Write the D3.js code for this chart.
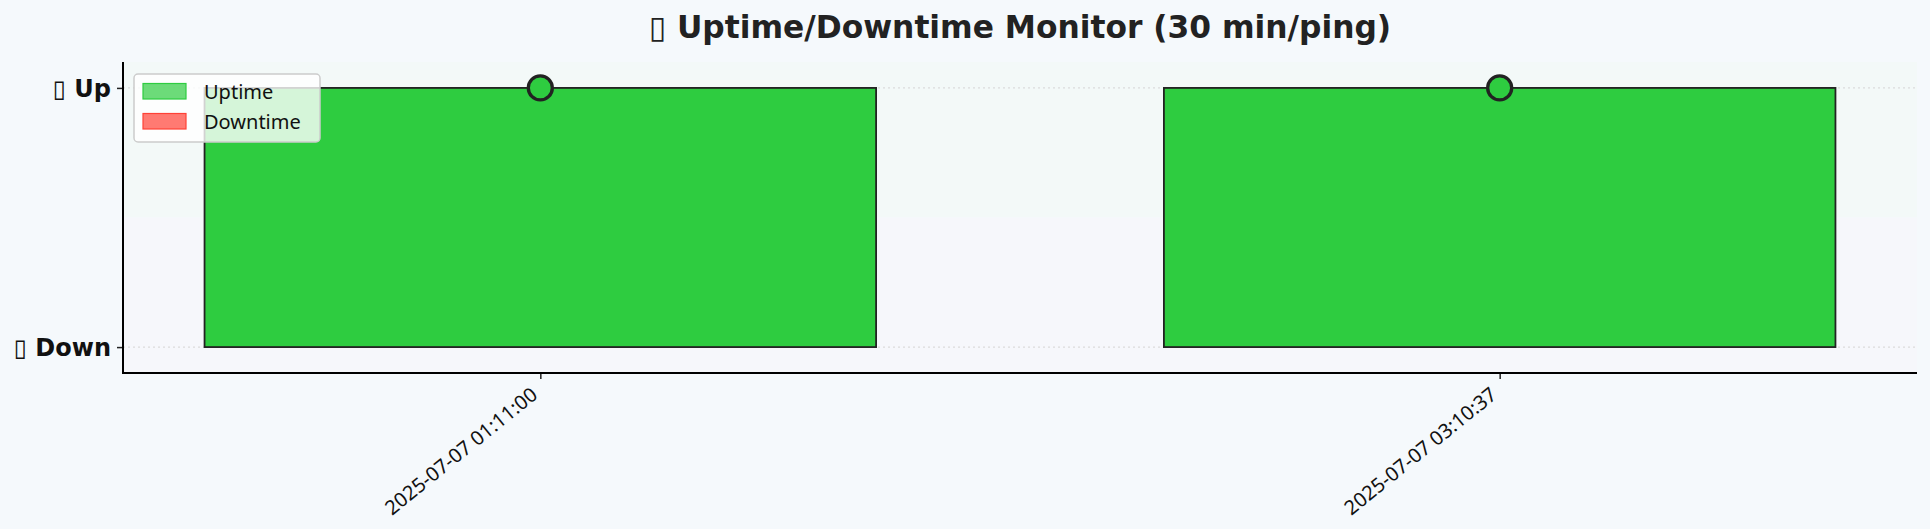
<!DOCTYPE html>
<html>
<head>
<meta charset="utf-8">
<script src="https://cdn.jsdelivr.net/npm/d3@7"></script>
<style>
  html, body { margin: 0; padding: 0; background: #f5f9fc; }
  svg { display: block; }
</style>
</head>
<body>
<svg id="chart" width="1930" height="529"></svg>
<script>
// ---- data ----
const timestamps = ["2025-07-07 01:11:00", "2025-07-07 03:10:37"];
const statusValues = [1, 1];           // 1 = up, 0 = down
const yTickValues = [0, 1];
const yTickLabels = ["\u25AF Down", "\u25AF Up"];
const legendLabels = ["Uptime", "Downtime"];
const titleText = "\u25AF Uptime/Downtime Monitor (30 min/ping)";

(function () {
// ---- layout ----
const W = 1930, H = 529;
const pL = 123, pR = 1917, pT = 62, pB = 373;
const GREEN = "#2ecc40", RED = "#ff4136", EDGE = "#222222";

const svg = d3.select("#chart");
svg.append("rect").attr("width", W).attr("height", H).attr("fill", "#f5f9fc");

const idx = timestamps.map((d, i) => i);
const barW = 0.7;
const x = d3.scaleLinear().domain([-0.435, idx.length - 1 + 0.435]).range([pL, pR]);
const y = d3.scaleLinear().domain([-0.1, 1.1]).range([pB, pT]);

// background bands
svg.append("rect").attr("x", pL).attr("width", pR - pL)
  .attr("y", y(1.1)).attr("height", y(0.5) - y(1.1)).attr("fill", "#f3f9f8");
svg.append("rect").attr("x", pL).attr("width", pR - pL)
  .attr("y", y(0.5)).attr("height", y(-0.1) - y(0.5)).attr("fill", "#f6f7fb");

// grid
svg.append("g").selectAll("line").data(yTickValues).join("line")
  .attr("x1", pL).attr("x2", pR)
  .attr("y1", d => y(d)).attr("y2", d => y(d))
  .attr("stroke", "#dcdcdc").attr("stroke-width", 1.2).attr("stroke-dasharray", "2,3");

// bars
svg.append("g").selectAll("rect").data(statusValues).join("rect")
  .attr("x", (d, i) => x(i - barW / 2))
  .attr("width", x(barW) - x(0))
  .attr("y", d => y(Math.max(d, 0)))
  .attr("height", d => Math.abs(y(0) - y(d)))
  .attr("fill", d => d === 1 ? GREEN : RED)
  .attr("stroke", EDGE).attr("stroke-width", 1.8);

// markers
svg.append("g").selectAll("circle").data(statusValues).join("circle")
  .attr("cx", (d, i) => x(i)).attr("cy", d => y(d))
  .attr("r", 12)
  .attr("fill", d => d === 1 ? GREEN : RED)
  .attr("stroke", EDGE).attr("stroke-width", 3.3);

// axes
const yAxis = d3.axisLeft(y).tickValues(yTickValues).tickSize(6).tickPadding(6)
  .tickFormat((d, i) => yTickLabels[i]);
const gy = svg.append("g").attr("transform", `translate(${pL},0)`).call(yAxis);
gy.select(".domain").remove();
gy.selectAll(".tick line").attr("stroke", "#222").attr("stroke-width", 1.5);
gy.selectAll(".tick text").attr("font-family", "DejaVu Sans").attr("font-weight", "bold")
  .attr("font-size", "24px").attr("fill", "#111").attr("x", -12).attr("dy", "0.36em");

const xAxis = d3.axisBottom(x).tickValues(idx).tickSize(6).tickFormat(i => timestamps[i]);
const gx = svg.append("g").attr("transform", `translate(0,${pB})`).call(xAxis);
gx.select(".domain").remove();
gx.selectAll(".tick line").attr("stroke", "#222").attr("stroke-width", 1.5);
gx.selectAll(".tick text")
  .attr("font-family", "Noto Sans").attr("font-size", "20px").attr("fill", "#111")
  .attr("text-anchor", "end").attr("y", 0).attr("dy", 0)
  .attr("transform", "translate(-2,24) rotate(-39)");

// spines
svg.append("line").attr("x1", pL).attr("x2", pL).attr("y1", pT).attr("y2", pB + 1)
  .attr("stroke", "#000").attr("stroke-width", 2);
svg.append("line").attr("x1", pL - 1).attr("x2", pR).attr("y1", pB).attr("y2", pB)
  .attr("stroke", "#000").attr("stroke-width", 2);

// title
svg.append("text").attr("x", (pL + pR) / 2).attr("y", 38)
  .attr("text-anchor", "middle").attr("font-family", "DejaVu Sans").attr("font-weight", "bold")
  .attr("font-size", "31.3px").attr("fill", "#222").text(titleText);

// legend
const lg = svg.append("g");
lg.append("rect").attr("x", 134).attr("y", 74).attr("width", 186).attr("height", 68)
  .attr("rx", 4).attr("fill", "#ffffff").attr("fill-opacity", 0.8)
  .attr("stroke", "#cccccc").attr("stroke-width", 1.5);
const legColors = [GREEN, RED];
const items = lg.selectAll("g.item").data(legendLabels).join("g").attr("class", "item")
  .attr("transform", (d, i) => `translate(0,${i * 30})`);
items.append("rect").attr("x", 143).attr("y", 83.5).attr("width", 43).attr("height", 15.5)
  .attr("fill", (d, i) => legColors[i]).attr("fill-opacity", 0.7)
  .attr("stroke", (d, i) => legColors[i]).attr("stroke-width", 1.2);
items.append("text").attr("x", 204).attr("y", 99)
  .attr("font-family", "Noto Sans").attr("font-size", "20px").attr("fill", "#111")
  .text(d => d);
})();
</script>
</body>
</html>
